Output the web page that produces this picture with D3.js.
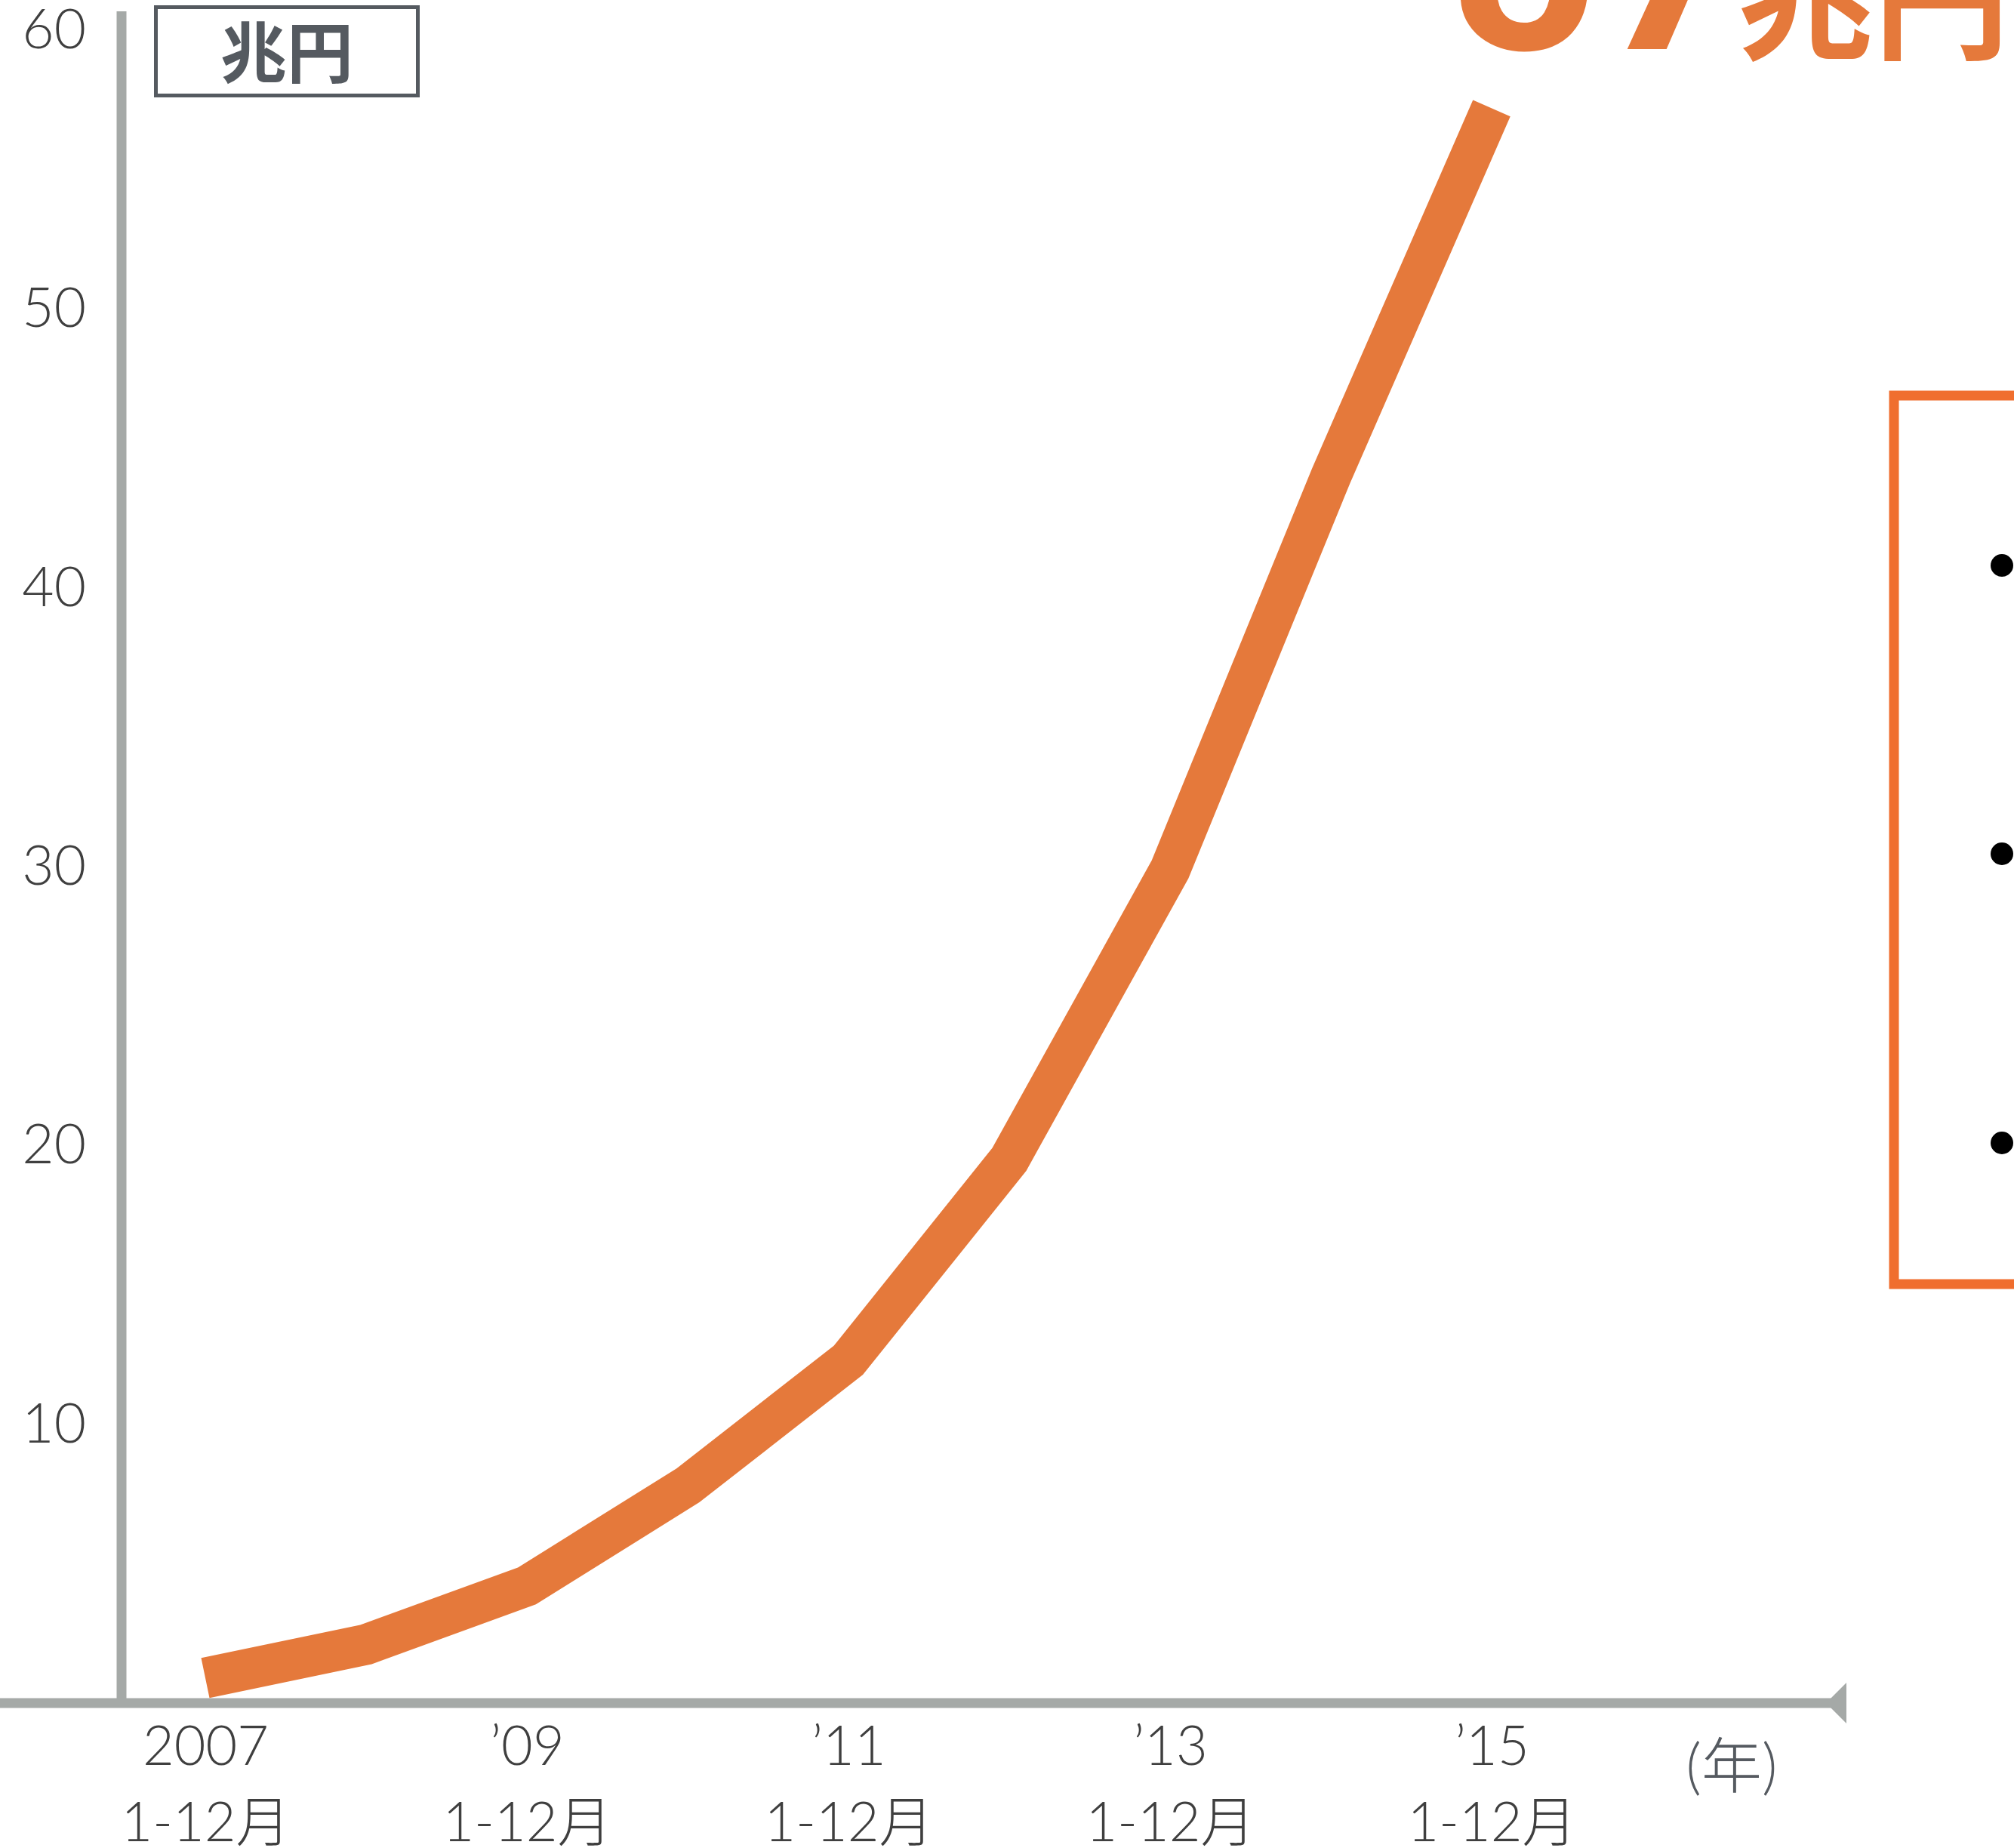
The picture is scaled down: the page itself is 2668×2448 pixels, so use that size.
<!DOCTYPE html>
<html>
<head>
<meta charset="utf-8">
<script src="https://cdn.jsdelivr.net/npm/d3@7"></script>
<style>
  body { margin: 0; background: #fff; }
  svg { display: block; }
</style>
</head>
<body>
<div id="chart"></div>
<script>
// data (兆円)
const years = [2007, 2008, 2009, 2010, 2011, 2012, 2013, 2014, 2015];
const values = [0.9, 2.1, 4.2, 7.8, 12.3, 19.5, 29.9, 44.0, 57.2];
const labelYears = [2007, 2009, 2011, 2013, 2015];
const yearLabels = ['2007', '’09', '’11', '’13', '’15'];
const monthLabel = '1-12月';
const yTicks = [10, 20, 30, 40, 50, 60];

const width = 2668;
const height = 2448;
const axisGray = '#a5a9a7';
const lineOrange = '#e5793b';
const labelFont = 'Lato, "Noto Sans CJK JP", sans-serif';

const svg = d3.select('#chart')
    .append('svg')
    .attr('width', width)
    .attr('height', height);

const x = d3.scalePoint()
    .domain(years)
    .range([272, 1976]);

const y = d3.scaleLinear()
    .domain([0, 60])
    .range([2256, 40]);

// y axis labels
const yAxis = svg.append('g')
    .attr('transform', 'translate(161,0)')
    .call(d3.axisLeft(y).tickValues(yTicks).tickSize(0).tickPadding(47));
yAxis.select('.domain').remove();
yAxis.selectAll('text')
    .style('font-family', labelFont)
    .style('font-weight', 300)
    .style('font-size', '73px')
    .attr('fill', '#3f3f3f');

// x axis labels (two lines)
const xAxis = svg.append('g')
    .attr('transform', 'translate(0,' + y(0) + ')')
    .call(d3.axisBottom(x).tickValues(labelYears).tickSize(0).tickPadding(31));
xAxis.select('.domain').remove();
xAxis.selectAll('text')
    .style('font-family', labelFont)
    .style('font-weight', 300)
    .style('font-size', '72px')
    .attr('fill', '#3f3f3f')
    .each(function(d, i) {
        const t = d3.select(this);
        t.text(null);
        t.append('tspan').attr('x', 0).text(yearLabels[i]);
        t.append('tspan').attr('x', 0).attr('dy', 101).text(monthLabel);
    });

// gray axis lines
svg.append('line')
    .attr('x1', 161).attr('x2', 161)
    .attr('y1', 15).attr('y2', y(0))
    .attr('stroke', axisGray)
    .attr('stroke-width', 13);

svg.append('line')
    .attr('x1', 0).attr('x2', 2430)
    .attr('y1', y(0)).attr('y2', y(0))
    .attr('stroke', axisGray)
    .attr('stroke-width', 13);

svg.append('path')
    .attr('d', 'M2419,' + y(0) + 'L2446,' + (y(0) - 27) + 'L2446,' + (y(0) + 27) + 'Z')
    .attr('fill', axisGray);

svg.append('text')
    .attr('x', 2294)
    .attr('y', 2368)
    .attr('text-anchor', 'middle')
    .style('font-family', labelFont)
    .style('font-weight', 300)
    .style('font-size', '80px')
    .attr('fill', '#555a60')
    .text('(年)');

// unit box
svg.append('rect')
    .attr('x', 206.5).attr('y', 9.5)
    .attr('width', 347).attr('height', 117)
    .attr('fill', 'none')
    .attr('stroke', '#555a60')
    .attr('stroke-width', 5);

svg.append('text')
    .attr('x', 380)
    .attr('y', 102)
    .attr('text-anchor', 'middle')
    .style('font-family', '"Noto Sans CJK JP", sans-serif')
    .style('font-weight', 700)
    .style('font-size', '88px')
    .attr('fill', '#555a60')
    .text('兆円');

// the line
const line = d3.line()
    .x((d, i) => x(years[i]))
    .y(d => y(d));

svg.append('path')
    .datum(values)
    .attr('d', line)
    .attr('fill', 'none')
    .attr('stroke', lineOrange)
    .attr('stroke-width', 54)
    .attr('stroke-linejoin', 'miter')
    .attr('stroke-linecap', 'butt');

// big value at top right (cut off by the frame)
svg.append('text')
    .attr('x', 1917)
    .attr('y', 65)
    .style('font-family', 'Roboto, sans-serif')
    .style('font-weight', 700)
    .style('font-size', '350px')
    .attr('fill', lineOrange)
    .text('57');

svg.append('text')
    .attr('x', 2302)
    .attr('y', 64)
    .style('font-family', '"Noto Sans CJK JP", sans-serif')
    .style('font-weight', 700)
    .style('font-size', '180px')
    .attr('fill', lineOrange)
    .text('兆円');

// side box with bullets
svg.append('rect')
    .attr('x', 2509).attr('y', 524)
    .attr('width', 400).attr('height', 1177)
    .attr('fill', 'none')
    .attr('stroke', '#f06e2e')
    .attr('stroke-width', 13);

svg.selectAll('.bullet')
    .data([749, 1131, 1514])
    .enter().append('circle')
    .attr('class', 'bullet')
    .attr('cx', 2652)
    .attr('cy', d => d)
    .attr('r', 15)
    .attr('fill', '#000');
</script>
</body>
</html>
